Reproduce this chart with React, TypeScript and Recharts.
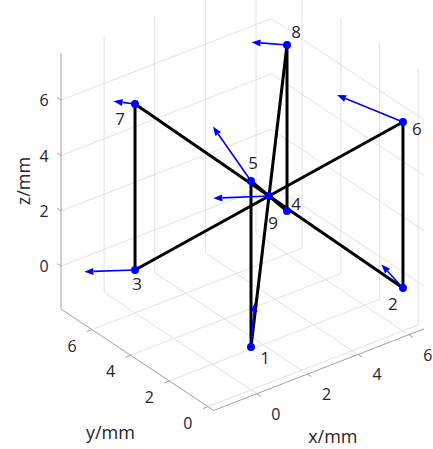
import React from 'react';
import { ComposedChart, XAxis, YAxis, Scatter, ReferenceLine } from 'recharts';

// node coordinates in mm
const nodeIds = [1, 2, 3, 4, 5, 6, 7, 8, 9];
const nodeX = [0, 6, 0, 6, 0, 6, 0, 6, 3];
const nodeY = [0, 0, 6, 6, 0, 0, 6, 6, 3];
const nodeZ = [0, 0, 0, 0, 6, 6, 6, 6, 3];

// bars, given by node number
const barFrom = [1, 2, 3, 4, 1, 2, 3, 4];
const barTo = [5, 6, 7, 8, 8, 7, 6, 5];

// arrow vector at each node
const arrowX = [0.15, -0.85, -2.0, 0, -1.5, -2.6, -0.85, -1.4, -2.2];
const arrowY = [0, 0, 0, 0, 0, 0, 0, 0, 0];
const arrowZ = [1.55, 1.15, 0.65, 0, 2.5, 1.9, 0.4, 0.6, 0.7];

const xTicks = [0, 2, 4, 6];
const yTicks = [0, 2, 4, 6];
const zTicks = [0, 2, 4, 6];

// axis limits and view
const xLim = [-1.7, 6.6];
const yLim = [-0.3, 7.6];
const zLim = [-1.55, 7.7];
const W = 433;
const H = 449;
const view = { ox: 251, oy: 347, ex: [25.33, -9.83], ey: [-19.33, -12.83], ez: [0, -27.67] };

const proj = (x: number, y: number, z: number) => ({
  x: view.ox + x * view.ex[0] + y * view.ey[0] + z * view.ez[0],
  y: view.oy + x * view.ex[1] + y * view.ey[1] + z * view.ez[1],
});

type Seg = [{ x: number; y: number }, { x: number; y: number }];
const seg = (a: number[], b: number[]): Seg => [proj(a[0], a[1], a[2]), proj(b[0], b[1], b[2])];

// grid on the back walls and floor
const gridSegs: Seg[] = [];
xTicks.forEach(t => {
  gridSegs.push(seg([t, yLim[0], zLim[0]], [t, yLim[1], zLim[0]]));
  gridSegs.push(seg([t, yLim[1], zLim[0]], [t, yLim[1], zLim[1]]));
});
yTicks.forEach(t => {
  gridSegs.push(seg([xLim[0], t, zLim[0]], [xLim[1], t, zLim[0]]));
  gridSegs.push(seg([xLim[1], t, zLim[0]], [xLim[1], t, zLim[1]]));
});
zTicks.forEach(t => {
  gridSegs.push(seg([xLim[0], yLim[1], t], [xLim[1], yLim[1], t]));
  gridSegs.push(seg([xLim[1], yLim[0], t], [xLim[1], yLim[1], t]));
});

const axisSegs: Seg[] = [
  seg([xLim[0], yLim[0], zLim[0]], [xLim[1], yLim[0], zLim[0]]),
  seg([xLim[0], yLim[0], zLim[0]], [xLim[0], yLim[1], zLim[0]]),
  seg([xLim[0], yLim[1], zLim[0]], [xLim[0], yLim[1], zLim[1]]),
];
const tickLen = 0.2;
xTicks.forEach(t => axisSegs.push(seg([t, yLim[0], zLim[0]], [t, yLim[0] - tickLen, zLim[0]])));
yTicks.forEach(t => axisSegs.push(seg([xLim[0], t, zLim[0]], [xLim[0] - tickLen, t, zLim[0]])));
zTicks.forEach(t => axisSegs.push(seg([xLim[0], yLim[1], t], [xLim[0], yLim[1] + tickLen, t])));

const node = (id: number) => [nodeX[id - 1], nodeY[id - 1], nodeZ[id - 1]];
const barSegs: Seg[] = barFrom.map((f, i) => seg(node(f), node(barTo[i])));

const arrowSegs: Seg[] = nodeIds
  .map((id, i) => ({ id, i }))
  .filter(({ i }) => arrowX[i] !== 0 || arrowY[i] !== 0 || arrowZ[i] !== 0)
  .map(({ i }) =>
    seg(
      [nodeX[i], nodeY[i], nodeZ[i]],
      [nodeX[i] + arrowX[i], nodeY[i] + arrowY[i], nodeZ[i] + arrowZ[i]]
    )
  );

const nodeData = nodeIds.map((id, i) => ({ ...proj(nodeX[i], nodeY[i], nodeZ[i]), id }));
const sx = (d: { x: number; y: number }) => ({ sx: d.x, sy: d.y });

// label offsets (px)
const nodeLabelOff = [[14, 10], [-10, 15], [2, 13], [9, -8], [2, -18], [14, 6], [-15, 14], [9, -14], [4, 26]];

const labelData: { sx: number; sy: number; text: string; size: number; rot?: number; dx: number; dy: number }[] = [];
nodeData.forEach((d, i) =>
  labelData.push({ ...sx(d), text: String(d.id), size: 17, dx: nodeLabelOff[i][0], dy: nodeLabelOff[i][1] })
);
xTicks.forEach(t => labelData.push({ ...sx(proj(t, yLim[0], zLim[0])), text: String(t), size: 16, dx: 19, dy: 20 }));
yTicks.forEach(t => labelData.push({ ...sx(proj(xLim[0], t, zLim[0])), text: String(t), size: 16, dx: -20, dy: 16 }));
zTicks.forEach(t => labelData.push({ ...sx(proj(xLim[0], yLim[1], t)), text: String(t), size: 16, dx: -17, dy: 0 }));
labelData.push({ ...sx(proj((xLim[0] + xLim[1]) / 2, yLim[0], zLim[0])), text: 'x/mm', size: 18, dx: 14, dy: 66 });
labelData.push({ ...sx(proj(xLim[0], (yLim[0] + yLim[1]) / 2, zLim[0])), text: 'y/mm', size: 18, dx: -27, dy: 72 });
labelData.push({ ...sx(proj(xLim[0], yLim[1], (zLim[0] + zLim[1]) / 2)), text: 'z/mm', size: 18, dx: -38, dy: 0, rot: -90 });

const FONT = '"Open Sans", "Liberation Sans", sans-serif';

const LabelShape = (p: any) => {
  const d = p.payload;
  const x = p.cx + d.dx;
  const y = p.cy + d.dy;
  return (
    <text
      x={x}
      y={y}
      textAnchor="middle"
      dominantBaseline="central"
      fontFamily={FONT}
      fontSize={d.size}
      fill="#262626"
      transform={d.rot ? `rotate(${d.rot} ${x} ${y})` : undefined}
    >
      {d.text}
    </text>
  );
};

const ArrowShape = (p: any) => {
  const { x1, y1, x2, y2 } = p;
  const dx = x2 - x1;
  const dy = y2 - y1;
  const len = Math.hypot(dx, dy) || 1;
  const ux = dx / len;
  const uy = dy / len;
  const h = 9;
  const w = 3.5;
  const bx = x2 - ux * h;
  const by = y2 - uy * h;
  return (
    <g>
      <line x1={x1} y1={y1} x2={bx} y2={by} stroke="#0000ff" strokeWidth={1.6} />
      <polygon points={`${x2},${y2} ${bx - uy * w},${by + ux * w} ${bx + uy * w},${by - ux * w}`} fill="#0000ff" />
    </g>
  );
};

export default function App() {
  return (
    <div style={{ position: 'absolute', left: 0, top: 0, width: W, height: H, background: '#fff' }}>
      <ComposedChart width={W} height={H} margin={{ top: 0, right: 0, bottom: 0, left: 0 }}>
        <XAxis type="number" dataKey="sx" domain={[0, W]} allowDataOverflow hide />
        <YAxis type="number" dataKey="sy" domain={[0, H]} allowDataOverflow reversed hide />
        {gridSegs.map((s, i) => (
          <ReferenceLine key={`g${i}`} segment={s} stroke="#e2e2e2" strokeWidth={1} ifOverflow="visible" />
        ))}
        {axisSegs.map((s, i) => (
          <ReferenceLine key={`a${i}`} segment={s} stroke="#a3a3a3" strokeWidth={1} ifOverflow="visible" />
        ))}
        {barSegs.map((s, i) => (
          <ReferenceLine key={`b${i}`} segment={s} stroke="#000" strokeWidth={3} ifOverflow="visible" />
        ))}
        <Scatter
          data={nodeData.map(sx)}
          fill="#0000ff"
          isAnimationActive={false}
          shape={(p: any) => <circle cx={p.cx} cy={p.cy} r={4} fill="#0000ff" />}
        />
        {arrowSegs.map((s, i) => (
          <ReferenceLine key={`q${i}`} segment={s} ifOverflow="visible" shape={ArrowShape} />
        ))}
        <Scatter data={labelData} isAnimationActive={false} shape={LabelShape} />
      </ComposedChart>
    </div>
  );
}
